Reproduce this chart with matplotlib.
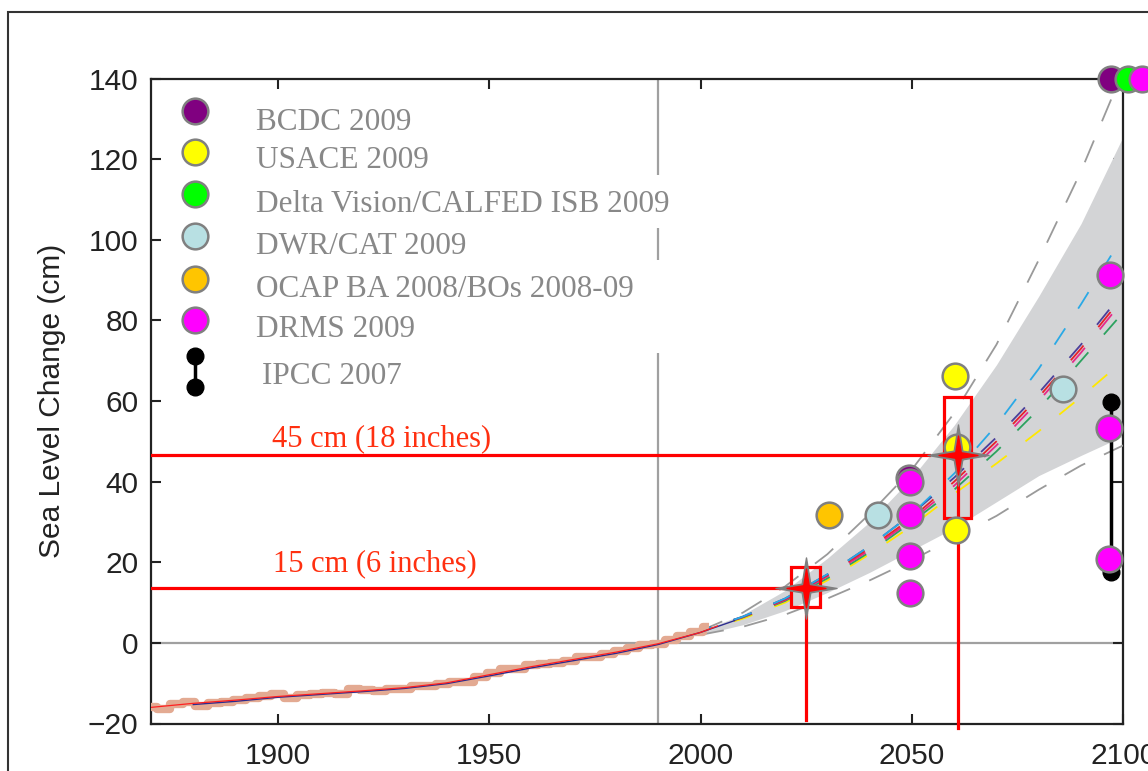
import numpy as np
import matplotlib
matplotlib.use("Agg")
import matplotlib.pyplot as plt
from matplotlib.path import Path
from matplotlib.patches import Rectangle

plt.rcParams['lines.scale_dashes'] = False

# ---------------- data ----------------
# observed (tide gauge) record, cm
obs_years = [1870, 1873, 1876, 1879, 1882, 1885, 1888, 1891, 1894, 1897, 1900, 1903, 1906, 1909,
             1912, 1915, 1918, 1921, 1924, 1927, 1930, 1933, 1936, 1939, 1942, 1945, 1948, 1951,
             1954, 1957, 1960, 1963, 1966, 1969, 1972, 1975, 1978, 1981, 1984, 1987, 1990, 1993,
             1996, 1999, 2002]
obs_values = [-15.8, -16.4, -15.2, -14.6, -15.6, -15.0, -14.6, -14.2, -13.6, -13.2, -12.8, -13.6,
              -13.0, -12.6, -12.4, -12.6, -11.4, -11.8, -12.0, -11.4, -11.4, -10.8, -10.8, -10.2,
              -9.8, -9.6, -8.4, -7.4, -6.6, -6.6, -5.6, -5.2, -5.0, -4.4, -3.6, -3.4, -2.8, -2.0,
              -1.2, -0.6, -0.4, 0.8, 1.6, 2.6, 4.0]
smooth_years = [1870, 1880, 1890, 1900, 1910, 1920, 1930, 1940, 1950, 1960, 1970, 1980, 1990, 2000, 2004]
smooth_red = [-16.0, -15.0, -14.2, -13.3, -12.6, -11.9, -11.1, -9.9, -7.9, -5.9, -4.1, -2.3, -0.2, 2.6, 4.2]
blue_years = [1880, 1890, 1900, 1910, 1920, 1930, 1940, 1950, 1960, 1970, 1980, 1990, 2000, 2008]
blue_vals = [-15.3, -14.5, -13.5, -12.8, -12.1, -11.3, -10.1, -8.2, -6.2, -4.4, -2.6, -0.4, 2.6, 5.5]

# projections, cm
proj_years = [2000, 2010, 2020, 2030, 2040, 2050, 2060, 2070, 2080, 2090, 2100]
band_low = [2.0, 4.5, 8.0, 12.5, 17.5, 23.0, 28.5, 35.0, 41.5, 46.5, 51.3]
band_high = [3.0, 7.0, 13.0, 21.0, 30.0, 41.0, 54.0, 69.0, 86.0, 104.0, 125.7]
bound_low = [2.0, 4.0, 7.0, 11.0, 15.5, 20.5, 26.0, 31.5, 38.0, 44.0, 49.0]
bound_high = [3.0, 7.5, 14.0, 22.0, 32.0, 43.0, 57.0, 74.0, 95.0, 117.0, 142.0]
model_lightblue = [3.0, 6.5, 11.0, 17.0, 24.0, 32.0, 42.0, 54.0, 68.0, 84.0, 101.0]
model_purple = [3.0, 6.5, 11.0, 17.0, 24.0, 32.0, 41.0, 51.0, 62.0, 74.0, 87.0]
model_red = [3.0, 6.4, 10.8, 16.8, 23.5, 31.0, 40.0, 50.0, 61.0, 73.0, 86.0]
model_magenta = [3.0, 6.4, 10.6, 16.5, 23.0, 30.5, 39.0, 49.0, 60.0, 72.0, 85.0]
model_green = [3.0, 6.3, 10.4, 16.0, 22.5, 30.0, 38.0, 47.5, 58.0, 70.0, 82.0]
model_yellow = [3.0, 6.0, 10.0, 15.5, 22.0, 29.0, 37.0, 44.5, 52.5, 61.0, 70.0]

# agency projections
bcdc_x, bcdc_y = [2049.3, 2097.2], [40.8, 140.0]
usace_x, usace_y = [2060.2, 2060.6, 2060.5], [66.2, 48.5, 28.1]
delta_x, delta_y = [2101.0], [140.0]
dwr_x, dwr_y = [2041.9, 2085.8], [31.8, 63.0]
ocap_x, ocap_y = [2030.5], [31.6]
drms_x = [2049.5, 2049.5, 2049.5, 2049.5, 2096.9, 2096.7, 2096.7, 2104.4]
drms_y = [39.9, 31.6, 21.5, 12.4, 91.2, 53.3, 20.7, 140.0]
ipcc_x, ipcc_y = [2097.0, 2097.0], [17.5, 59.8]

# highlighted targets
targets_x = [2025.0, 2061.0]
targets_y = [13.7, 46.5]
target_labels = ["15 cm (6 inches)", "45 cm (18 inches)"]
box_x0 = [2021.4, 2057.6]
box_x1 = [2028.2, 2064.0]
box_y0 = [8.8, 31.1]
box_y1 = [18.9, 61.1]

legend_labels = ["BCDC 2009", "USACE 2009", "Delta Vision/CALFED ISB 2009", "DWR/CAT 2009",
                 "OCAP BA 2008/BOs 2008-09", "DRMS 2009", "IPCC 2007"]
legend_colors = ["#800080", "#ffff00", "#00ff00", "#b8e0e3", "#ffc500", "#ff00ff", "#000000"]

x_ticks = [1900, 1950, 2000, 2050, 2100]
y_ticks = [-20, 0, 20, 40, 60, 80, 100, 120, 140]

# ---------------- figure ----------------
W, H = 1148, 771
fig = plt.figure(figsize=(W / 100, H / 100), dpi=100)
ax = fig.add_axes([151 / W, 1 - 723.5 / H, (1123.3 - 151) / W, (723.5 - 78.5) / H])
ax.set_xlim(1870, 2100)
ax.set_ylim(-20, 140)

# outer frame
fig.add_artist(Rectangle((8 / W, -0.05), 1.2, 1 - 12 / H + 0.05, transform=fig.transFigure,
                         fill=False, ec="#333333", lw=1.5))

# reference lines
ax.axhline(0, color="#a0a0a0", lw=1.6, zorder=1)
ax.axvline(1990, color="#a0a0a0", lw=1.6, zorder=1)
# white gaps behind the long legend entries
for ytop, ybot in [(175, 228), (260, 353)]:
    ax.add_patch(Rectangle((0.50, 1 - (ybot - 78.5) / 645), 0.06, (ybot - ytop) / 645,
                           transform=ax.transAxes, fc="white", ec="none", zorder=1.5))

# projection band
ax.fill_between(proj_years, band_low, band_high, color="#d3d4d6", lw=0, zorder=2)
gray_dash = (0, (17, 15))
ax.plot(proj_years, bound_low, color="#9a9a9a", lw=1.3, ls=gray_dash, zorder=3)
ax.plot(proj_years, bound_high, color="#9a9a9a", lw=1.3, ls=gray_dash, zorder=3)

model_dash = (6, (14, 17))
models = [(model_yellow, "#ffe800"), (model_green, "#2ca25f"), (model_magenta, "#e7298a"),
          (model_red, "#e8202a"), (model_purple, "#4b3f9a"), (model_lightblue, "#2aa9e6")]
for vals, c in models:
    ax.plot(proj_years, vals, color=c, lw=1.3, ls=model_dash, zorder=4)

# observations
ax.plot(obs_years, obs_values, color="#e3aa92", lw=6, drawstyle="steps-mid", zorder=5,
        solid_capstyle="butt")
ax.plot(blue_years, blue_vals, color="#2b2b8f", lw=1.0, zorder=6)
ax.plot(smooth_years, smooth_red, color="#ff2020", lw=0.9, zorder=6)

# target lines
red = "#ff0000"
ax.plot([1870, targets_x[0] - 5.6], [targets_y[0]] * 2, color=red, lw=2.3, zorder=7)
ax.plot([1870, targets_x[1] - 7.0], [targets_y[1]] * 2, color=red, lw=2.3, zorder=7)
ax.plot([targets_x[0]] * 2, [box_y0[0] - 1.6, -19.2], color=red, lw=2.3, zorder=7)
ax.plot([targets_x[1]] * 2, [targets_y[1] - 4.4, -21], color=red, lw=2.3, zorder=7, clip_on=False)
for x0, x1, y0, y1 in zip(box_x0, box_x1, box_y0, box_y1):
    ax.add_patch(Rectangle((x0, y0), x1 - x0, y1 - y0, fill=False, ec=red, lw=2.3, zorder=9))
ax.text(1924.5, 48.8, target_labels[1], color="#ff3010", fontsize=22,
        family="Liberation Serif", ha="center", va="baseline", zorder=8)
ax.text(1923.0, 17.8, target_labels[0], color="#ff3010", fontsize=22,
        family="Liberation Serif", ha="center", va="baseline", zorder=8)

# points
mk = dict(marker="o", ms=18.5, mec="#808080", mew=1.8, ls="none", clip_on=False, zorder=10)
ax.plot(ocap_x, ocap_y, mfc=legend_colors[4], **mk)
ax.plot(dwr_x, dwr_y, mfc=legend_colors[3], **mk)
ax.plot(bcdc_x, bcdc_y, mfc=legend_colors[0], **mk)
ax.plot(usace_x, usace_y, mfc=legend_colors[1], **mk)
ax.plot(ipcc_x, ipcc_y, color="black", lw=2.5, marker="o", ms=12, zorder=10, clip_on=False)
ax.plot(delta_x, delta_y, mfc=legend_colors[2], **mk)
ax.plot(drms_x, drms_y, mfc=legend_colors[5], **mk)

# star markers
r = 0.2
ang = np.arange(8) * np.pi / 4 + np.pi / 2
rad = np.array([1, r] * 4)
star_verts = np.column_stack([rad * np.cos(ang), rad * np.sin(ang)])
star = Path(np.vstack([star_verts, star_verts[:1]]), closed=True)
ax.plot(targets_x, targets_y, marker=star, ms=44, mfc="#7f7f7f", mec="#7f7f7f", ls="none", zorder=11)
ax.plot(targets_x, targets_y, marker=star, ms=28, mfc=red, mec=red, ls="none", zorder=12)

# legend (manual)
leg_x = 0.0453
leg_marker_y = [0.9496, 0.886, 0.821, 0.756, 0.689, 0.626]
leg_text_y = [0.9196, 0.861, 0.793, 0.728, 0.661, 0.5985, 0.527]
for i in range(6):
    ax.plot([leg_x], [leg_marker_y[i]], transform=ax.transAxes, marker="o", ms=18.5,
            mfc=legend_colors[i], mec="#808080", mew=1.8, zorder=13)
ax.plot([leg_x, leg_x], [0.522, 0.570], transform=ax.transAxes, color="black", lw=2.5,
        marker="o", ms=12, zorder=13)
for i, lab in enumerate(legend_labels):
    tx = 0.108 if i < 6 else 0.1145
    ax.text(tx, leg_text_y[i], lab, transform=ax.transAxes, color="#888888", fontsize=22.5,
            family="Liberation Serif", ha="left", va="baseline", zorder=12)

# axes styling
ax.set_xticks(x_ticks)
ax.set_yticks(y_ticks)
ax.tick_params(direction="in", length=7, width=1.5, top=True, right=True,
               labelsize=21.5, colors="#222222", pad=9)
ax.tick_params(axis="x", pad=13)
for lab in ax.get_xticklabels() + ax.get_yticklabels():
    lab.set_family("Liberation Sans")
for s in ax.spines.values():
    s.set_linewidth(1.6)
    s.set_color("#222222")
ax.set_ylabel("Sea Level Change (cm)", fontsize=21.5, family="Liberation Sans",
              color="#222222", labelpad=16)

fig.savefig("out.png", dpi=100)
